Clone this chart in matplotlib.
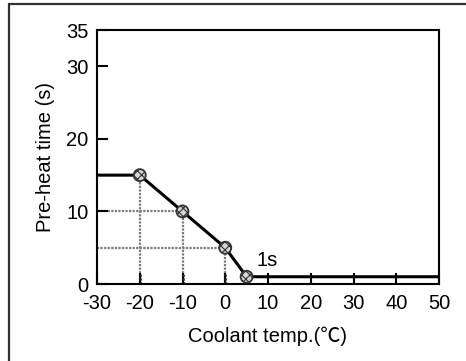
import matplotlib.pyplot as plt
from matplotlib.patches import Rectangle

# Pre-heat time vs coolant temperature
temps = [-30, -20, -10, 0, 5, 50]
preheat = [15, 15, 10, 5, 1, 1]
marker_temps = [-20, -10, 0, 5]
marker_times = [15, 10, 5, 1]
xticks = [-30, -20, -10, 0, 10, 20, 30, 40, 50]
yticks = [0, 10, 20, 30, 35]

plt.rcParams['font.family'] = ['Liberation Sans', 'Noto Sans CJK JP', 'DejaVu Sans']
plt.rcParams['axes.unicode_minus'] = False
plt.rcParams['hatch.color'] = '#8c8c8c'
plt.rcParams['hatch.linewidth'] = 0.8

fig = plt.figure(figsize=(4.66, 3.61), dpi=100)
ax = fig.add_axes([97 / 466, 1 - 284 / 361, (439 - 97) / 466, (284 - 30) / 361])

# outer frame
fig.patches.append(Rectangle((9 / 466, -0.05), 1.0, 1 - 4 / 361 + 0.05,
                             transform=fig.transFigure, fill=False,
                             edgecolor='#333333', linewidth=1.6, clip_on=False))

# dotted guide lines
guide = dict(color='#7a7a7a', linestyle=(0, (1, 0.6)), linewidth=1.6, zorder=1)
for t, p in zip(marker_temps, marker_times):
    ax.plot([t, t], [0, p], **guide)
    ax.plot([t, t], [0, 1.4], color='#222222', linestyle=(0, (1, 0.5)),
            linewidth=1.8, zorder=2)
for t, p in zip(marker_temps[1:3], marker_times[1:3]):
    ax.plot([-30, t], [p, p], **guide)

ax.plot(temps, preheat, color='black', linewidth=2.2, zorder=3)
ax.scatter(marker_temps, marker_times, s=75, facecolor='#d6d6d6',
           edgecolor='#333333', linewidth=1.3, hatch='xxxx', zorder=4)

ax.text(7.3, 3.2, '1s', fontsize=14.5, va='center', ha='left')

ax.set_xlim(-30, 50)
ax.set_ylim(0, 35)
ax.set_xticks(xticks)
ax.set_yticks(yticks)
ax.tick_params(direction='in', length=8, width=1.5, labelsize=14.5, pad=7,
               colors='black')
ax.tick_params(axis='y', pad=6)
for s in ax.spines.values():
    s.set_linewidth(1.5)

ax.set_xlabel('Coolant temp.(℃)', fontsize=14.5, labelpad=10)
ax.set_ylabel('Pre-heat time (s)', fontsize=14.5, labelpad=8)

fig.savefig('out.png', dpi=100, facecolor='white')
